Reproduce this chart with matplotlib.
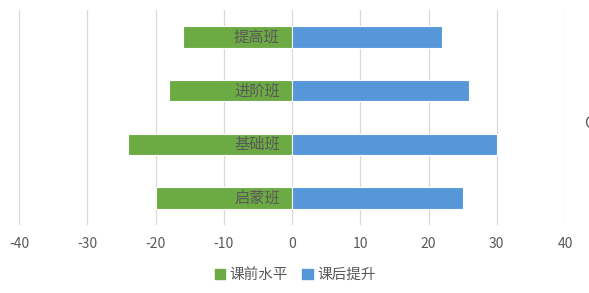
import matplotlib
matplotlib.use("Agg")
import matplotlib.pyplot as plt
from matplotlib.patches import Patch

plt.rcParams["font.family"] = ["Noto Sans CJK SC", "DejaVu Sans"]

classes = ["启蒙班", "基础班", "进阶班", "提高班"]
before = [-20, -24, -18, -16]
after = [25, 30, 26, 22]
xticks = [-40, -30, -20, -10, 0, 10, 20, 30, 40]

green = "#6cab44"
blue = "#5597d8"
text_gray = "#595959"

fig = plt.figure(figsize=(5.89, 2.93), dpi=100)
ax = fig.add_axes([19 / 589, 1 - 225 / 293, (565 - 19) / 589, (225 - 10) / 293])

y = list(range(len(classes)))
ax.barh(y, before, height=0.4, color=green, edgecolor="white", linewidth=0.8, zorder=3)
ax.barh(y, after, height=0.4, color=blue, edgecolor="white", linewidth=0.8, zorder=3)

# category names sit inside the green bars, next to zero
for yi, name in zip(y, classes):
    ax.text(-1.8, yi, name, ha="right", va="center", fontsize=11,
            color=text_gray, zorder=4)

ax.set_xlim(-40, 40)
ax.set_ylim(-0.5, len(classes) - 0.5)
ax.set_xticks(xticks)
ax.set_xticklabels([str(t) for t in xticks])
ax.set_yticks([])
ax.tick_params(axis="x", length=0, pad=9, labelsize=10, labelcolor=text_gray)
ax.grid(axis="x", color="#d9d9d9", linewidth=0.9, zorder=0)
for s in ax.spines.values():
    s.set_visible(False)

handles = [Patch(color=green, label="课前水平"), Patch(color=blue, label="课后提升")]
fig.legend(handles=handles, loc="center", bbox_to_anchor=(295 / 589, 1 - 275 / 293),
           ncol=2, frameon=False, fontsize=10.5, handlelength=0.7, handleheight=0.7,
           handletextpad=0.3, columnspacing=1.0, labelcolor=text_gray)

# clipped glyph at the right edge, as in the source image
fig.text(584 / 589, 1 - 123 / 293, "C", fontsize=11, color=text_gray, va="center", ha="left")

fig.savefig("out.png", dpi=100)
